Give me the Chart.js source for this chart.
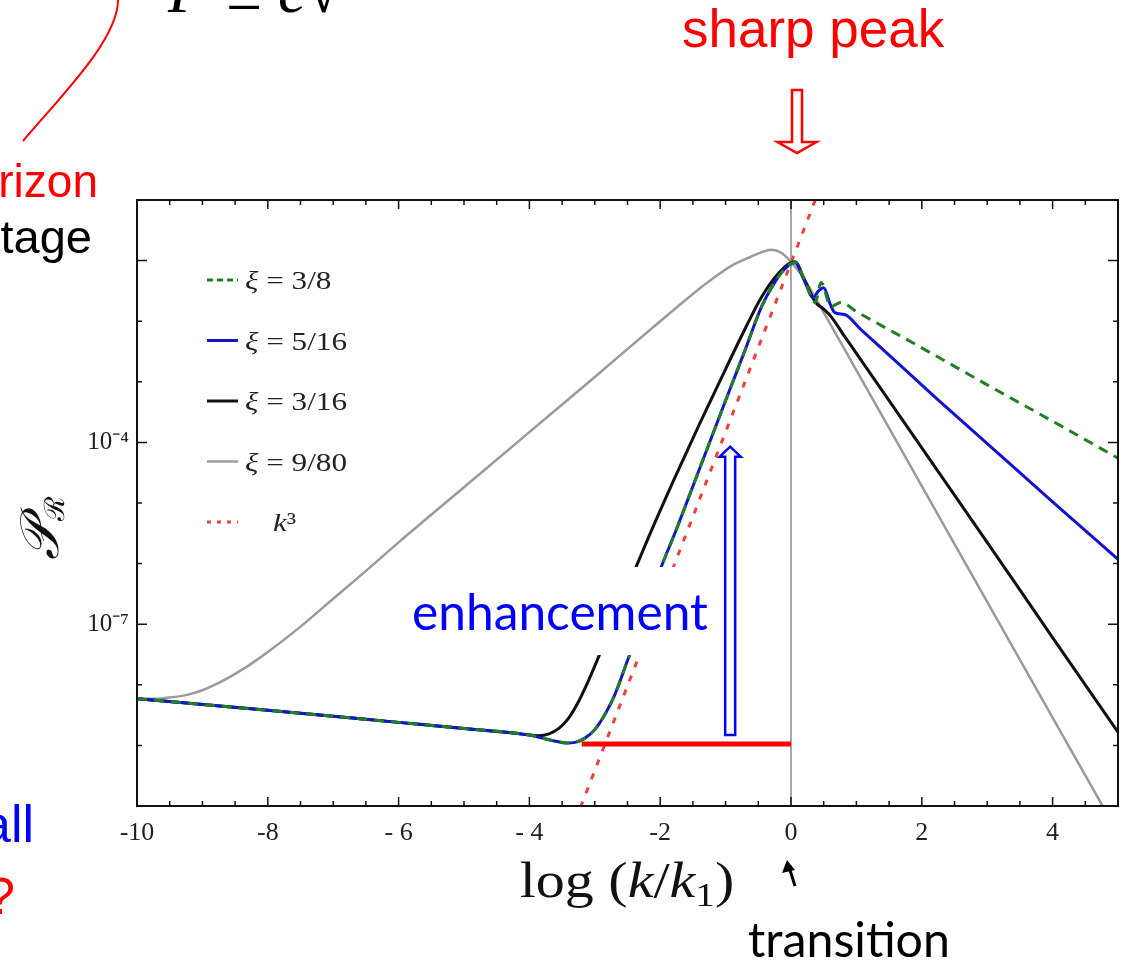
<!DOCTYPE html>
<html>
<head>
<meta charset="utf-8">
<script src="https://cdn.jsdelivr.net/npm/chart.js@4.4.1/dist/chart.umd.min.js"></script>
<style>
  html, body { margin: 0; padding: 0; background: #fff; overflow: hidden; }
  #c { display: block; }
</style>
</head>
<body>
<canvas id="c" width="1122" height="961"></canvas>
<script>
// x = log(k/k1), y = log10 of P_R
const xGreen = [-10, -8, -6, -5, -4, -3.8, -3.6, -3.43, -3.3, -3.15, -3.0, -2.85, -2.7, -2.5, -2.2, -2.0, -1.75, -1.4, -1.0, -0.7, -0.45, -0.25, -0.1, 0.06, 0.2, 0.37, 0.46, 0.61, 0.76, 1, 2, 3, 4, 5];
const logPGreen = [-8.23, -8.42, -8.62, -8.72, -8.83, -8.88, -8.93, -8.96, -8.95, -8.88, -8.74, -8.50, -8.18, -7.60, -6.72, -6.10, -5.43, -4.44, -3.31, -2.47, -1.76, -1.36, -1.14, -1.03, -1.30, -1.69, -1.36, -1.76, -1.69, -1.84, -2.44, -3.05, -3.65, -4.26];

const xBlue = [-10, -8, -6, -5, -4, -3.8, -3.6, -3.43, -3.3, -3.15, -3.0, -2.85, -2.7, -2.5, -2.2, -2.0, -1.75, -1.4, -1.0, -0.7, -0.45, -0.25, -0.1, 0.06, 0.2, 0.34, 0.42, 0.5, 0.6, 0.67, 0.82, 1.07, 1.5, 2.24, 3, 4, 5];
const logPBlue = [-8.23, -8.42, -8.62, -8.72, -8.83, -8.88, -8.93, -8.96, -8.95, -8.88, -8.74, -8.50, -8.18, -7.60, -6.72, -6.10, -5.43, -4.44, -3.31, -2.47, -1.76, -1.36, -1.14, -1.03, -1.32, -1.61, -1.50, -1.45, -1.72, -1.86, -1.89, -2.14, -2.56, -3.29, -4.02, -4.98, -5.93];

const xBlack = [-10, -8, -6, -5, -4.5, -4.2, -4.0, -3.86, -3.7, -3.55, -3.4, -3.25, -3.1, -2.95, -2.8, -2.6, -2.2, -1.8, -1.4, -1.0, -0.7, -0.45, -0.2, 0.06, 0.2, 0.37, 0.5, 0.61, 0.8, 1, 2, 3, 4, 5];
const logPBlack = [-8.23, -8.42, -8.62, -8.72, -8.77, -8.80, -8.83, -8.84, -8.81, -8.72, -8.55, -8.28, -7.94, -7.56, -7.17, -6.65, -5.62, -4.64, -3.70, -2.79, -2.12, -1.60, -1.22, -1.02, -1.30, -1.68, -1.80, -1.92, -2.22, -2.53, -4.09, -5.65, -7.22, -8.78];

const xGray = [-10, -9.75, -9.5, -9.25, -9, -8.75, -8.5, -8.25, -8, -7.5, -7, -6.5, -6, -5, -4, -3, -2, -1.5, -1.2, -0.9, -0.6, -0.45, -0.3, -0.15, 0, 0.15, 0.3, 0.56, 1, 2, 3, 4, 5];
const logPGray = [-8.23, -8.23, -8.21, -8.17, -8.09, -7.97, -7.82, -7.65, -7.46, -7.04, -6.58, -6.12, -5.65, -4.74, -3.83, -2.92, -2.0, -1.55, -1.30, -1.08, -0.93, -0.86, -0.82, -0.87, -1.02, -1.22, -1.48, -1.97, -2.81, -4.72, -6.63, -8.54, -10.45];

const xK3 = [-3.3, 0.45];
const logPK3 = [-10.25, 0.22];

const seriesLabels = ['ξ = 3/8', 'ξ = 5/16', 'ξ = 3/16', 'ξ = 9/80', 'k³'];

const xTickValues = [-10, -8, -6, -4, -2, 0, 2, 4];
const xTickLabels = ['-10', '-8', '- 6', '- 4', '-2', '0', '2', '4'];
const yTickValues = [-4, -7];
const yTickLabels = ['10⁻⁴', '10⁻⁷'];

// annotation anchors (data units)
const transitionX = 0;
const plateauLogP = -8.975;
const plateauFromX = -3.2;
const arrowX = -0.93;
const arrowFrom = -8.83;
const arrowTo = -4.07;

function pts(xs, ys) {
    return xs.map((x, i) => ({x: x, y: ys[i]}));
}

function pickLabel(values, labels, v) {
    const i = values.findIndex(t => Math.abs(t - v) < 1e-6);
    return i >= 0 ? labels[i] : null;
}

function textRuns(ctx, runs, x, y) {
    // runs: [text, font, dy]
    runs.forEach(r => {
        ctx.font = r[1];
        ctx.fillText(r[0], x, y + (r[2] || 0));
        x += ctx.measureText(r[0]).width;
    });
    return x;
}

function runsWidth(ctx, runs) {
    let w = 0;
    runs.forEach(r => { ctx.font = r[1]; w += ctx.measureText(r[0]).width; });
    return w;
}

function fitSize(ctx, text, family, width) {
    ctx.font = '100px ' + family;
    return 100 * width / ctx.measureText(text).width;
}

function hollowArrow(ctx, cx, yBase, yTip, shaftHalf, headHalf, headLen) {
    const dir = yTip < yBase ? 1 : -1; // 1 = pointing up
    const yHead = yTip + dir * headLen;
    ctx.beginPath();
    ctx.moveTo(cx - shaftHalf, yBase);
    ctx.lineTo(cx - shaftHalf, yHead);
    ctx.lineTo(cx - headHalf, yHead);
    ctx.lineTo(cx, yTip);
    ctx.lineTo(cx + headHalf, yHead);
    ctx.lineTo(cx + shaftHalf, yHead);
    ctx.lineTo(cx + shaftHalf, yBase);
    ctx.closePath();
    ctx.fillStyle = '#fff';
    ctx.fill();
    ctx.stroke();
}

const serif = '"Liberation Serif", "DejaVu Serif", serif';
const sans = '"Liberation Sans", Arial, sans-serif';
const legendDash = [[6, 4], [], [], [], [4, 6]];

const decor = {
    id: 'decor',
    beforeDatasetsDraw(chart) {
        const {ctx, chartArea: a, scales: {x}} = chart;
        const x0 = x.getPixelForValue(transitionX);
        ctx.save();
        ctx.strokeStyle = '#8a8a8a';
        ctx.lineWidth = 1.5;
        ctx.beginPath();
        ctx.moveTo(x0, a.top);
        ctx.lineTo(x0, a.bottom);
        ctx.stroke();
        ctx.restore();
    },
    afterDatasetsDraw(chart) {
        const {ctx, scales: {x, y}} = chart;
        ctx.save();

        // red plateau line
        ctx.strokeStyle = '#ff0000';
        ctx.lineWidth = 5;
        ctx.beginPath();
        ctx.moveTo(x.getPixelForValue(plateauFromX), y.getPixelForValue(plateauLogP));
        ctx.lineTo(x.getPixelForValue(transitionX), y.getPixelForValue(plateauLogP));
        ctx.stroke();

        // blue hollow arrow
        ctx.strokeStyle = '#0000ff';
        ctx.lineWidth = 2.5;
        hollowArrow(ctx, x.getPixelForValue(arrowX), y.getPixelForValue(arrowFrom), y.getPixelForValue(arrowTo), 5, 10.5, 10);

        // text box
        ctx.fillStyle = '#fff';
        ctx.fillRect(405, 567, 312, 88);
        const fs = fitSize(ctx, 'enhancement', 'Lato', 296);
        ctx.font = fs + 'px Lato';
        ctx.fillStyle = '#0000ff';
        ctx.textBaseline = 'alphabetic';
        ctx.fillText('enhancement', 412, 630);
        ctx.restore();
    },
    afterDraw(chart) {
        const {ctx, chartArea: a, scales: {x, y}} = chart;
        ctx.save();

        // frame + inward ticks
        ctx.strokeStyle = '#111';
        ctx.lineWidth = 2;
        ctx.strokeRect(a.left, a.top, a.right - a.left, a.bottom - a.top);
        ctx.lineWidth = 1.5;
        ctx.beginPath();
        for (let v = x.min; v <= x.max + 1e-9; v += 0.5) {
            const px = x.getPixelForValue(v);
            const len = pickLabel(xTickValues, xTickLabels, v) !== null ? 9 : 5;
            ctx.moveTo(px, a.bottom); ctx.lineTo(px, a.bottom - len);
            ctx.moveTo(px, a.top); ctx.lineTo(px, a.top + len);
        }
        for (let v = y.min; v <= y.max + 1e-9; v += 1) {
            const py = y.getPixelForValue(v);
            const len = (v === -1 || v === -10 || v === -7 || v === -4) ? 10 : 5;
            ctx.moveTo(a.left, py); ctx.lineTo(a.left + len, py);
            ctx.moveTo(a.right, py); ctx.lineTo(a.right - len, py);
        }
        ctx.stroke();

        // legend
        const ds = chart.data.datasets;
        ctx.textBaseline = 'alphabetic';
        ds.forEach((d, i) => {
            const ly = 280 + i * 60.5;
            ctx.strokeStyle = d.borderColor;
            ctx.lineWidth = d.borderWidth;
            ctx.setLineDash(legendDash[i]);
            ctx.beginPath();
            ctx.moveTo(207, ly);
            ctx.lineTo(238, ly);
            ctx.stroke();
            ctx.setLineDash([]);
            ctx.fillStyle = '#222';
            const lab = d.label;
            const tx = lab[0] === 'ξ' ? 245 : 273;
            ctx.save();
            ctx.translate(tx, ly + 9);
            ctx.scale(1.2, 1);
            textRuns(ctx, [[lab[0], 'italic 26px ' + serif], [lab.slice(1), '26px ' + serif]], 0, 0);
            ctx.restore();
        });

        // axis titles
        ctx.fillStyle = '#111';
        const xt = [['log (', '50px ' + serif], ['k', 'italic 50px ' + serif], ['/', '50px ' + serif],
            ['k', 'italic 50px ' + serif], ['1', '34px ' + serif, 9], [')', '50px ' + serif]];
        const xtw = runsWidth(ctx, xt) * 1.16;
        ctx.save();
        ctx.translate(627 - xtw / 2, 897);
        ctx.scale(1.16, 1);
        textRuns(ctx, xt, 0, 0);
        ctx.restore();

        ctx.save();
        ctx.translate(58, 560);
        ctx.rotate(-Math.PI / 2);
        ctx.font = 'italic 54px "DejaVu Serif", serif';
        ctx.fillText('𝒫', 0, 0);
        const wp = ctx.measureText('𝒫').width;
        ctx.font = '28px "DejaVu Serif", serif';
        ctx.fillText('ℛ', wp, 6);
        ctx.restore();

        // slide annotations around the figure
        ctx.fillStyle = '#ff0000';
        ctx.font = '53px ' + sans;
        ctx.fillText('sharp peak', 682, 47);
        ctx.strokeStyle = '#ff0000';
        ctx.lineWidth = 2.5;
        hollowArrow(ctx, 797, 90, 153, 5, 19.5, 11);

        ctx.textAlign = 'right';
        ctx.fillStyle = '#ff0000';
        ctx.font = '46px ' + sans;
        ctx.fillText('rizon', 98, 197);
        ctx.fillStyle = '#000';
        ctx.font = '47px ' + sans;
        ctx.fillText('tage', 92, 253);
        ctx.fillStyle = '#0000ff';
        ctx.font = '52px ' + sans;
        ctx.fillText('all', 34, 842);
        ctx.fillStyle = '#ff0000';
        ctx.fillText('?', 15, 914);
        ctx.textAlign = 'left';

        ctx.strokeStyle = '#ff0000';
        ctx.lineWidth = 2;
        ctx.beginPath();
        ctx.moveTo(23, 141);
        ctx.bezierCurveTo(60, 97, 118, 40, 118, 0);
        ctx.stroke();

        ctx.fillStyle = '#000';
        ctx.font = 'italic 64px ' + serif;
        ctx.fillText('P', 168, 12);
        ctx.font = '64px ' + serif;
        ctx.fillText('=', 226, 22);
        ctx.font = 'italic 64px ' + serif;
        ctx.fillText('c', 278, 12);
        ctx.font = '64px ' + serif;
        ctx.fillText('√', 306, 12);

        const ts = fitSize(ctx, 'transition', 'Lato', 202);
        ctx.font = ts + 'px Lato';
        ctx.fillText('transition', 748, 957);

        // small black arrow
        ctx.strokeStyle = '#000';
        ctx.lineWidth = 3;
        ctx.beginPath();
        ctx.moveTo(795, 886);
        ctx.lineTo(790, 870);
        ctx.stroke();
        ctx.beginPath();
        ctx.moveTo(787, 860);
        ctx.lineTo(782, 873);
        ctx.lineTo(795, 870);
        ctx.closePath();
        ctx.fill();

        ctx.restore();
    }
};

const lineDefaults = {pointRadius: 0, fill: false, cubicInterpolationMode: 'monotone'};

new Chart(document.getElementById('c').getContext('2d'), {
    type: 'line',
    data: {
        datasets: [
            {...lineDefaults, label: seriesLabels[0], data: pts(xGreen, logPGreen), borderColor: '#1f7f24', borderWidth: 3, borderDash: [10, 7]},
            {...lineDefaults, label: seriesLabels[1], data: pts(xBlue, logPBlue), borderColor: '#1414cc', borderWidth: 3},
            {...lineDefaults, label: seriesLabels[2], data: pts(xBlack, logPBlack), borderColor: '#111111', borderWidth: 3},
            {...lineDefaults, label: seriesLabels[3], data: pts(xGray, logPGray), borderColor: '#9a9a9a', borderWidth: 2.5},
            {...lineDefaults, label: seriesLabels[4], data: pts(xK3, logPK3), borderColor: '#ee4040', borderWidth: 3, borderDash: [6, 9]}
        ]
    },
    options: {
        responsive: false,
        animation: false,
        layout: {padding: {left: 0, top: 200, right: 4, bottom: 0}},
        plugins: {legend: {display: false}, tooltip: {enabled: false}},
        scales: {
            x: {
                type: 'linear', min: -10, max: 5,
                afterFit: s => { s.height = 155; },
                grid: {display: false, drawTicks: false},
                border: {display: false},
                ticks: {
                    stepSize: 0.5, autoSkip: false, maxRotation: 0, padding: 12,
                    color: '#222', font: {family: 'Liberation Serif', size: 26},
                    callback: v => pickLabel(xTickValues, xTickLabels, v)
                }
            },
            y: {
                type: 'linear', min: -10, max: 0,
                afterFit: s => { s.width = 137; },
                grid: {display: false, drawTicks: false},
                border: {display: false},
                ticks: {
                    stepSize: 1, autoSkip: false, padding: 8,
                    color: '#222', font: {family: 'Liberation Serif', size: 25},
                    callback: v => pickLabel(yTickValues, yTickLabels, v)
                }
            }
        }
    },
    plugins: [decor]
});
</script>
</body>
</html>
